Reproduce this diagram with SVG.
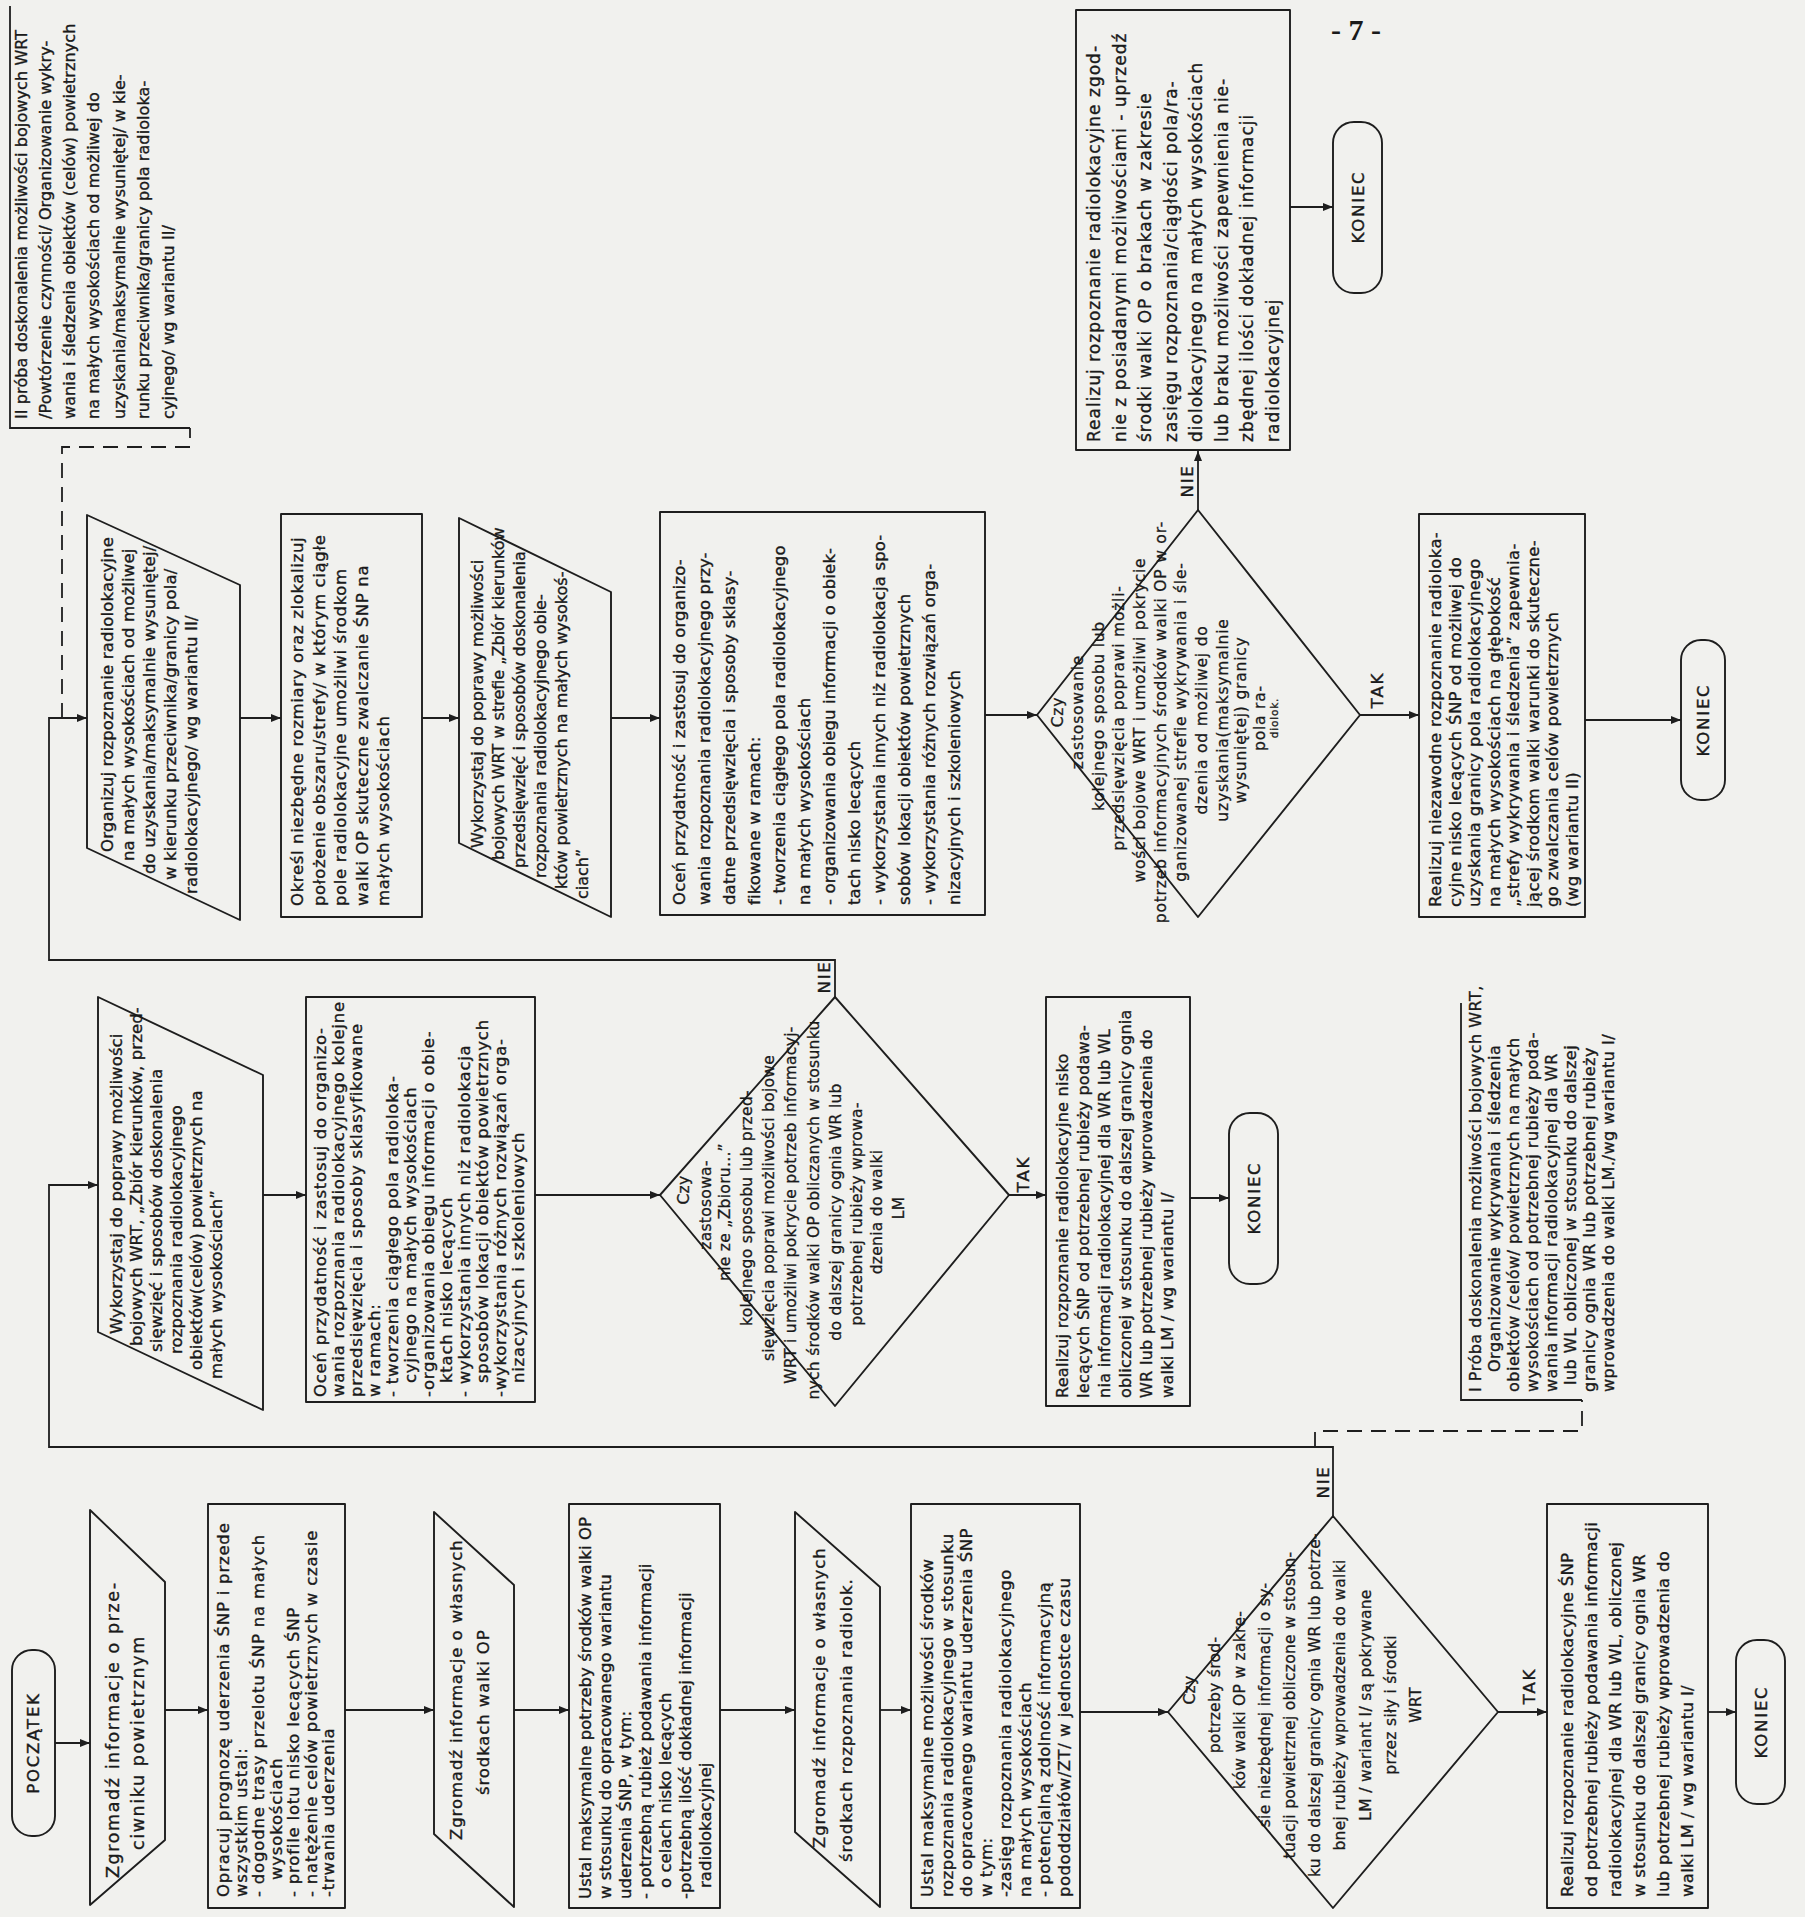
<svg xmlns="http://www.w3.org/2000/svg" width="1805" height="1917" viewBox="0 0 1805 1917">
<style>
.bg{fill:#f1f1ee}
.sh{fill:none;stroke:#1e1e1e;stroke-width:1.9;stroke-linejoin:round}
.ln{fill:none;stroke:#1e1e1e;stroke-width:1.8}
.da{fill:none;stroke:#1e1e1e;stroke-width:1.8;stroke-dasharray:15 9}
.t{font-family:"DejaVu Sans","Liberation Sans",sans-serif;font-size:16.5px;letter-spacing:0.6px;fill:#1a1a1a;stroke:#1a1a1a;stroke-width:0.35px}
.td{font-family:"DejaVu Sans","Liberation Sans",sans-serif;font-size:15.5px;letter-spacing:0.3px;fill:#1a1a1a;stroke:#1a1a1a;stroke-width:0.3px}
.lb{font-family:"DejaVu Sans","Liberation Sans",sans-serif;font-size:16.5px;letter-spacing:1.8px;fill:#1a1a1a;stroke:#1a1a1a;stroke-width:0.4px}
.pg{font-family:"Liberation Serif",serif;font-size:30px;font-weight:bold;fill:#1a1a1a}
</style>
<defs>
<marker id="ah" viewBox="0 0 10 8" refX="10" refY="4" markerWidth="12" markerHeight="8" markerUnits="userSpaceOnUse" orient="auto"><path d="M0,0 L10,4 L0,8 z" fill="#1e1e1e"/></marker>
</defs>
<rect class="bg" x="0" y="0" width="1805" height="1917"/>

<g id="connectors">
<path class="ln" marker-end="url(#ah)" d="M55,1743 H90"/>
<path class="ln" marker-end="url(#ah)" d="M165,1710 H208"/>
<path class="ln" marker-end="url(#ah)" d="M345,1710 H434"/>
<path class="ln" marker-end="url(#ah)" d="M514,1710 H569"/>
<path class="ln" marker-end="url(#ah)" d="M720,1710 H795"/>
<path class="ln" marker-end="url(#ah)" d="M880,1710 H911"/>
<path class="ln" marker-end="url(#ah)" d="M1080,1712 H1168"/>
<path class="ln" marker-end="url(#ah)" d="M1498,1712 H1547"/>
<path class="ln" marker-end="url(#ah)" d="M1708,1712 H1736"/>
<path class="ln" marker-end="url(#ah)" d="M1333,1516 V1447 H49 V1185 H98"/>
<path class="ln" marker-end="url(#ah)" d="M263,1195 H306"/>
<path class="ln" marker-end="url(#ah)" d="M535,1195 H660"/>
<path class="ln" marker-end="url(#ah)" d="M1009,1195 H1046"/>
<path class="ln" marker-end="url(#ah)" d="M1190,1198 H1229"/>
<path class="ln" marker-end="url(#ah)" d="M835,997 V960 H49 V718 H87"/>
<path class="ln" marker-end="url(#ah)" d="M240,718 H281"/>
<path class="ln" marker-end="url(#ah)" d="M422,718 H459"/>
<path class="ln" marker-end="url(#ah)" d="M611,718 H660"/>
<path class="ln" marker-end="url(#ah)" d="M985,715 H1037"/>
<path class="ln" marker-end="url(#ah)" d="M1360,715 H1419"/>
<path class="ln" marker-end="url(#ah)" d="M1585,720 H1681"/>
<path class="ln" marker-end="url(#ah)" d="M1198,510 V451"/>
<path class="ln" marker-end="url(#ah)" d="M1290,207 H1333"/>
<path class="da" d="M1315,1447 V1431 H1582 V1400"/>
<path class="da" d="M62,718 V447 H190 V428"/>
<text class="lb" transform="rotate(-90)" text-anchor="middle"><tspan x="-1482" y="1329">NIE</tspan><tspan x="-1686" y="1535">TAK</tspan><tspan x="-977" y="830">NIE</tspan><tspan x="-1174" y="1029">TAK</tspan><tspan x="-481" y="1193">NIE</tspan><tspan x="-690" y="1383">TAK</tspan></text>
</g>

<g id="start">
<rect class="sh" x="12" y="1650" width="43" height="186" rx="20"/>
<text class="lb" transform="rotate(-90)" text-anchor="middle"><tspan x="-1743" y="39">POCZĄTEK</tspan></text>
</g>

<g id="in1">
<polygon class="sh" points="90,1510 165,1582 165,1840 90,1905"/>
<text class="t" style="font-size:17.5px;letter-spacing:1.6px" transform="rotate(-90)"><tspan x="-1878" y="119">Zgromadź informacje o prze-</tspan><tspan x="-1850" y="144">ciwniku powietrznym</tspan></text>
</g>

<g id="prognoza">
<rect class="sh" x="208" y="1504" width="137" height="404"/>
<text class="t" style="letter-spacing:0.8px" transform="rotate(-90)"><tspan x="-1897" y="229">Opracuj prognozę uderzenia ŚNP i przede</tspan><tspan x="-1897" y="246.5">wszystkim ustal:</tspan><tspan x="-1897" y="264">- dogodne trasy przelotu ŚNP na małych</tspan><tspan x="-1880" y="281.5">wysokościach</tspan><tspan x="-1897" y="299">- profile lotu nisko lecących ŚNP</tspan><tspan x="-1897" y="316.5">- natężenie celów powietrznych w czasie</tspan><tspan x="-1897" y="334">-trwania uderzenia</tspan></text>
</g>

<g id="in2">
<polygon class="sh" points="434,1512 514,1585 514,1907 434,1834"/>
<text class="t" style="letter-spacing:0.9px" transform="rotate(-90)"><tspan x="-1840" y="462">Zgromadź informacje o własnych</tspan><tspan x="-1795" y="489">środkach walki OP</tspan></text>
</g>

<g id="potrzeby">
<rect class="sh" x="569" y="1504" width="151" height="404"/>
<text class="t" style="letter-spacing:0.05px" transform="rotate(-90)"><tspan x="-1899" y="591">Ustal maksymalne potrzeby środków walki OP</tspan><tspan x="-1899" y="611">w stosunku do opracowanego wariantu</tspan><tspan x="-1899" y="631">uderzenia ŚNP, w tym:</tspan><tspan x="-1899" y="651">- potrzebną rubież podawania informacji</tspan><tspan x="-1888" y="671">o celach nisko lecących</tspan><tspan x="-1899" y="691">-potrzebną ilość dokładnej informacji</tspan><tspan x="-1888" y="711">radiolokacyjnej</tspan></text>
</g>

<g id="in3">
<polygon class="sh" points="795,1512 880,1587 880,1907 795,1832"/>
<text class="t" style="letter-spacing:0.9px" transform="rotate(-90)"><tspan x="-1848" y="825">Zgromadź informacje o własnych</tspan><tspan x="-1862" y="852">środkach rozpoznania radiolok.</tspan></text>
</g>

<g id="mozliwosci">
<rect class="sh" x="911" y="1504" width="169" height="404"/>
<text class="t" style="letter-spacing:0.5px" transform="rotate(-90)"><tspan x="-1897" y="933">Ustal maksymalne możliwości środków</tspan><tspan x="-1897" y="952.5">rozpoznania radiolokacyjnego w stosunku</tspan><tspan x="-1897" y="972">do opracowanego wariantu uderzenia ŚNP</tspan><tspan x="-1897" y="991.5">w tym:</tspan><tspan x="-1897" y="1011">-zasięg rozpoznania radiolokacyjnego</tspan><tspan x="-1897" y="1030.5">na małych wysokościach</tspan><tspan x="-1897" y="1050">- potencjalną zdolność informacyjną</tspan><tspan x="-1897" y="1069.5">pododdziałów/ZT/ w jednostce czasu</tspan></text>
</g>

<g id="dec1">
<polygon class="sh" points="1168,1712 1333,1516 1498,1712 1333,1908"/>
<text class="td" transform="rotate(-90)" text-anchor="middle"><tspan x="-1690" y="1195">Czy</tspan><tspan x="-1695" y="1220">potrzeby środ-</tspan><tspan x="-1700" y="1245">ków walki OP w zakre-</tspan><tspan x="-1705" y="1270">sie niezbędnej informacji o sy-</tspan><tspan x="-1705" y="1295">tuacji powietrznej obliczone w stosun-</tspan><tspan x="-1705" y="1320">ku do dalszej granicy ognia WR lub potrze-</tspan><tspan x="-1705" y="1345">bnej rubieży wprowadzenia do walki</tspan><tspan x="-1705" y="1371">LM / wariant I/ są pokrywane</tspan><tspan x="-1705" y="1396">przez siły i środki</tspan><tspan x="-1705" y="1421">WRT</tspan></text>
</g>

<g id="real1">
<rect class="sh" x="1547" y="1504" width="161" height="404"/>
<text class="t" style="letter-spacing:0.3px" transform="rotate(-90)"><tspan x="-1897" y="1573">Realizuj rozpoznanie radiolokacyjne ŚNP</tspan><tspan x="-1897" y="1597">od potrzebnej rubieży podawania informacji</tspan><tspan x="-1897" y="1621">radiolokacyjnej dla WR lub WL, obliczonej</tspan><tspan x="-1897" y="1645">w stosunku do dalszej granicy ognia WR</tspan><tspan x="-1897" y="1669">lub potrzebnej rubieży wprowadzenia do</tspan><tspan x="-1897" y="1693">walki LM / wg wariantu I/</tspan></text>
</g>

<g id="end1">
<rect class="sh" x="1736" y="1640" width="49" height="164" rx="21"/>
<text class="lb" transform="rotate(-90)" text-anchor="middle"><tspan x="-1722" y="1767">KONIEC</tspan></text>
</g>

<g id="zbior1">
<polygon class="sh" points="98,997 263,1075 263,1410 98,1332"/>
<text class="t" style="letter-spacing:0.1px" transform="rotate(-90)"><tspan x="-1334" y="122">Wykorzystaj do poprawy możliwości</tspan><tspan x="-1346" y="142">bojowych WRT, „Zbiór kierunków, przed-</tspan><tspan x="-1352" y="162">sięwzięć i sposobów doskonalenia</tspan><tspan x="-1354" y="182">rozpoznania radiolokacyjnego</tspan><tspan x="-1370" y="202">obiektów(celów) powietrznych na</tspan><tspan x="-1379" y="222">małych wysokościach”</tspan></text>
</g>

<g id="ocen1">
<rect class="sh" x="306" y="997" width="229" height="405"/>
<text class="t" style="letter-spacing:0.75px" transform="rotate(-90)"><tspan x="-1397" y="326">Oceń przydatność i zastosuj do organizo-</tspan><tspan x="-1397" y="344">wania rozpoznania radiolokacyjnego kolejne</tspan><tspan x="-1397" y="362">przedsięwzięcia i sposoby sklasyfikowane</tspan><tspan x="-1397" y="380">w ramach:</tspan><tspan x="-1397" y="398">- tworzenia ciągłego pola radioloka-</tspan><tspan x="-1383" y="416">cyjnego na małych wysokościach</tspan><tspan x="-1397" y="434">-organizowania obiegu informacji o obie-</tspan><tspan x="-1383" y="452">ktach nisko lecących</tspan><tspan x="-1397" y="470">- wykorzystania innych niż radiolokacja</tspan><tspan x="-1383" y="488">sposobów lokacji obiektów powietrznych</tspan><tspan x="-1397" y="506">-wykorzystania różnych rozwiązań orga-</tspan><tspan x="-1383" y="524">nizacyjnych i szkoleniowych</tspan></text>
</g>

<g id="dec2">
<polygon class="sh" points="660,1195 835,997 1009,1195 835,1406"/>
<text class="td" transform="rotate(-90)" text-anchor="middle"><tspan x="-1190" y="689">Czy</tspan><tspan x="-1205" y="711">zastosowa-</tspan><tspan x="-1212" y="730">nie ze „Zbioru...”</tspan><tspan x="-1208" y="752">kolejnego sposobu lub przed-</tspan><tspan x="-1208" y="774">sięwzięcia poprawi możliwości bojowe</tspan><tspan x="-1205" y="796">WRT i umożliwi pokrycie potrzeb informacyj-</tspan><tspan x="-1210" y="819">nych środków walki OP obliczanych w stosunku</tspan><tspan x="-1212" y="841">do dalszej granicy ognia WR lub</tspan><tspan x="-1214" y="862">potrzebnej rubieży wprowa-</tspan><tspan x="-1212" y="882">dzenia do walki</tspan><tspan x="-1208" y="904">LM</tspan></text>
</g>

<g id="real2">
<rect class="sh" x="1046" y="997" width="144" height="409"/>
<text class="t" style="font-size:16px;letter-spacing:0.3px" transform="rotate(-90)"><tspan x="-1398" y="1068">Realizuj rozpoznanie radiolokacyjne nisko</tspan><tspan x="-1398" y="1089">lecących ŚNP od potrzebnej rubieży podawa-</tspan><tspan x="-1398" y="1110">nia informacji radiolokacyjnej dla WR lub WL</tspan><tspan x="-1398" y="1131">obliczonej w stosunku do dalszej granicy ognia</tspan><tspan x="-1398" y="1152">WR lub potrzebnej rubieży wprowadzenia do</tspan><tspan x="-1398" y="1173">walki LM / wg wariantu I/</tspan></text>
</g>

<g id="end2">
<rect class="sh" x="1229" y="1113" width="49" height="171" rx="21"/>
<text class="lb" transform="rotate(-90)" text-anchor="middle"><tspan x="-1198" y="1260">KONIEC</tspan></text>
</g>

<g id="proba1">
<path class="ln" d="M1461,1003 V1400 H1582"/>
<text class="t" style="font-size:16px;letter-spacing:0.5px" transform="rotate(-90)"><tspan x="-1392" y="1481">I Próba doskonalenia możliwości bojowych WRT,</tspan><tspan x="-1372" y="1500">Organizowanie wykrywania i śledzenia</tspan><tspan x="-1392" y="1519">obiektów /celów/ powietrznych na małych</tspan><tspan x="-1392" y="1538">wysokościach od potrzebnej rubieży poda-</tspan><tspan x="-1392" y="1557">wania informacji radiolokacyjnej dla WR</tspan><tspan x="-1385" y="1576">lub WL obliczonej w stosunku do dalszej</tspan><tspan x="-1392" y="1595">granicy ognia WR lub potrzebnej rubieży</tspan><tspan x="-1392" y="1614">wprowadzenia do walki LM./wg wariantu I/</tspan></text>
</g>

<g id="org2">
<polygon class="sh" points="87,515 240,585 240,920 87,848"/>
<text class="t" style="letter-spacing:0.15px" transform="rotate(-90)"><tspan x="-852" y="113">Organizuj rozpoznanie radiolokacyjne</tspan><tspan x="-861" y="134">na małych wysokościach od możliwej</tspan><tspan x="-874" y="155">do uzyskania/maksymalnie wysuniętej/</tspan><tspan x="-880" y="176">w kierunku przeciwnika/granicy pola/</tspan><tspan x="-894" y="197">radiolokacyjnego/ wg wariantu II/</tspan></text>
</g>

<g id="okresl">
<rect class="sh" x="281" y="514" width="141" height="403"/>
<text class="t" style="letter-spacing:0.65px" transform="rotate(-90)"><tspan x="-906" y="303">Określ niezbędne rozmiary oraz zlokalizuj</tspan><tspan x="-906" y="324.5">położenie obszaru/strefy/ w którym ciągłe</tspan><tspan x="-906" y="346">pole radiolokacyjne umożliwi środkom</tspan><tspan x="-906" y="367.5">walki OP skuteczne zwalczanie ŚNP na</tspan><tspan x="-906" y="389">małych wysokościach</tspan></text>
</g>

<g id="zbior2">
<polygon class="sh" points="459,518 611,592 611,917 459,843"/>
<text class="t" style="font-size:16px;letter-spacing:0px" transform="rotate(-90)"><tspan x="-848" y="483">Wykorzystaj do poprawy możliwości</tspan><tspan x="-860" y="504">bojowych WRT w strefie „Zbiór kierunków</tspan><tspan x="-868" y="525">przedsięwzięć i sposobów doskonalenia</tspan><tspan x="-878" y="546">rozpoznania radiolokacyjnego obie-</tspan><tspan x="-889" y="567">któw powietrznych na małych wysokoś-</tspan><tspan x="-899" y="588">ciach”</tspan></text>
</g>

<g id="ocen2">
<rect class="sh" x="660" y="512" width="325" height="403"/>
<text class="t" style="letter-spacing:0.15px" transform="rotate(-90)"><tspan x="-905" y="685">Oceń przydatność i zastosuj do organizo-</tspan><tspan x="-905" y="710">wania rozpoznania radiolokacyjnego przy-</tspan><tspan x="-905" y="735">datne przedsięwzięcia i sposoby sklasy-</tspan><tspan x="-905" y="760">fikowane w ramach:</tspan><tspan x="-905" y="785">- tworzenia ciągłego pola radiolokacyjnego</tspan><tspan x="-905" y="810">na małych wysokościach</tspan><tspan x="-905" y="835">- organizowania obiegu informacji o obiek-</tspan><tspan x="-905" y="860">tach nisko lecących</tspan><tspan x="-905" y="885">- wykorzystania innych niż radiolokacja spo-</tspan><tspan x="-905" y="910">sobów lokacji obiektów powietrznych</tspan><tspan x="-905" y="935">- wykorzystania różnych rozwiązań orga-</tspan><tspan x="-905" y="960">nizacyjnych i szkoleniowych</tspan></text>
</g>

<g id="dec3">
<polygon class="sh" points="1037,715 1198,510 1360,715 1198,917"/>
<text class="td" style="letter-spacing:0.8px" transform="rotate(-90)" text-anchor="middle"><tspan x="-712" y="1063">Czy</tspan><tspan x="-712" y="1083">zastosowanie</tspan><tspan x="-716" y="1104">kolejnego sposobu lub</tspan><tspan x="-718" y="1124">przedsięwzięcia poprawi możli-</tspan><tspan x="-720" y="1145">wości bojowe WRT i umożliwi pokrycie</tspan><tspan x="-722" y="1166">potrzeb informacyjnych środków walki OP w or-</tspan><tspan x="-722" y="1186">ganizowanej strefie wykrywania i śle-</tspan><tspan x="-720" y="1207">dzenia od możliwej do</tspan><tspan x="-720" y="1228">uzyskania(maksymalnie</tspan><tspan x="-720" y="1246">wysuniętej) granicy</tspan><tspan x="-718" y="1265">pola ra-</tspan><tspan x="-718" y="1278" style="font-size:10.5px">diolok.</tspan></text>
</g>

<g id="real3">
<rect class="sh" x="1419" y="514" width="166" height="403"/>
<text class="t" style="letter-spacing:0.35px" transform="rotate(-90)"><tspan x="-907" y="1441">Realizuj niezawodne rozpoznanie radioloka-</tspan><tspan x="-907" y="1460.5">cyjne nisko lecących ŚNP od możliwej do</tspan><tspan x="-907" y="1480">uzyskania granicy pola radiolokacyjnego</tspan><tspan x="-907" y="1499.5">na małych wysokościach na głębokość</tspan><tspan x="-907" y="1519">„strefy wykrywania i śledzenia” zapewnia-</tspan><tspan x="-907" y="1538.5">jącej środkom walki warunki do skuteczne-</tspan><tspan x="-907" y="1558">go zwalczania celów powietrznych</tspan><tspan x="-907" y="1577.5">(wg wariantu II)</tspan></text>
</g>

<g id="end3">
<rect class="sh" x="1681" y="640" width="44" height="160" rx="20"/>
<text class="lb" transform="rotate(-90)" text-anchor="middle"><tspan x="-720" y="1709">KONIEC</tspan></text>
</g>

<g id="proba2">
<path class="ln" d="M10,6 V428 H190"/>
<text class="t" style="font-size:16px;letter-spacing:0.1px" transform="rotate(-90)"><tspan x="-419" y="27">II próba doskonalenia możliwości bojowych WRT</tspan><tspan x="-419" y="51">/Powtórzenie czynności/ Organizowanie wykry-</tspan><tspan x="-419" y="75">wania i śledzenia obiektów (celów) powietrznych</tspan><tspan x="-419" y="99">na małych wysokościach od możliwej do</tspan><tspan x="-419" y="125">uzyskania/maksymalnie wysuniętej/ w kie-</tspan><tspan x="-419" y="149">runku przeciwnika/granicy pola radioloka-</tspan><tspan x="-419" y="174">cyjnego/ wg wariantu II/</tspan></text>
</g>

<g id="real4">
<rect class="sh" x="1076" y="10" width="214" height="440"/>
<text class="t" style="font-size:17px;letter-spacing:1px" transform="rotate(-90)"><tspan x="-442" y="1100">Realizuj rozpoznanie radiolokacyjne zgod-</tspan><tspan x="-442" y="1125.5">nie z posiadanymi możliwościami - uprzedź</tspan><tspan x="-442" y="1151">środki walki OP o brakach w zakresie</tspan><tspan x="-442" y="1176.5">zasięgu rozpoznania/ciągłości pola/ra-</tspan><tspan x="-442" y="1202">diolokacyjnego na małych wysokościach</tspan><tspan x="-442" y="1227.5">lub braku możliwości zapewnienia nie-</tspan><tspan x="-442" y="1253">zbędnej ilości dokładnej informacji</tspan><tspan x="-442" y="1278.5">radiolokacyjnej</tspan></text>
</g>

<g id="end4">
<rect class="sh" x="1333" y="122" width="49" height="171" rx="21"/>
<text class="lb" transform="rotate(-90)" text-anchor="middle"><tspan x="-207" y="1364">KONIEC</tspan></text>
</g>

<text class="pg" x="1356" y="40" text-anchor="middle">- 7 -</text>
</svg>
